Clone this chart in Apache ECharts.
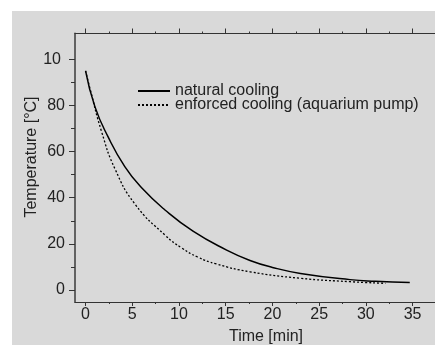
<!DOCTYPE html>
<html>
<head>
<meta charset="utf-8">
<script src="https://cdn.jsdelivr.net/npm/echarts@6/dist/echarts.min.js"></script>
<style>
  html, body { margin: 0; padding: 0; background: #ffffff; }
  #wrap { position: relative; width: 435px; height: 345px; background: #ffffff; overflow: hidden; }
  #chart { position: absolute; left: 12px; top: 11px; width: 423px; height: 334px; }
</style>
</head>
<body>
<div id="wrap"><div id="chart"></div></div>
<script>
// ---- data ----
const naturalTime  = [0, 1, 2.4, 4.2, 6, 8.5, 11.5, 15.1, 17.6, 20, 23, 28.3, 31, 34.7];
const naturalTemp  = [95, 79.5, 66.5, 53.5, 44.3, 34.7, 25.5, 17.3, 12.8, 9.8, 7.2, 4.5, 3.8, 3.3];
const enforcedTime = [0, 0.47, 1.72, 3.15, 5.3, 8.5, 10.3, 12, 14, 17.6, 22.95, 28.3, 32.1];
const enforcedTemp = [95, 87.4, 68.6, 52.5, 37.2, 23.8, 18.2, 14.3, 11.3, 7.9, 5.1, 3.6, 2.9];

const xMajorTicks = [0, 5, 10, 15, 20, 25, 30, 35];
const xMinorTicks = [2.5, 7.5, 12.5, 17.5, 22.5, 27.5, 32.5];
const yMajorTicks = [0, 20, 40, 60, 80, 100];
const yMinorTicks = [10, 30, 50, 70, 90];

const seriesNames = ['natural cooling', 'enforced cooling (aquarium pump)'];
const xName = 'Time [min]';
const yName = 'Temperature [°C]';

const FONT = 'Liberation Sans';
const FS = 16;
const AXIS = '#333333';
const TXT = '#222222';

const xMin = -1.13, xMax = 37.4;
const yMin = -5.2, yMax = 111.2;

function pairs(xs, ys) { return xs.map((x, i) => [x, ys[i]]); }

const chart = echarts.init(document.getElementById('chart'), null, { renderer: 'canvas' });

const baseX = (extra) => Object.assign({
  type: 'value', min: xMin, max: xMax, gridIndex: 0,
  splitLine: { show: false },
  axisLabel: { show: false },
  axisLine: { show: false, onZero: false },
  axisTick: { show: false }
}, extra);
const baseY = (extra) => Object.assign({
  type: 'value', min: yMin, max: yMax, gridIndex: 0,
  splitLine: { show: false },
  axisLabel: { show: false },
  axisLine: { show: false, onZero: false },
  axisTick: { show: false }
}, extra);

chart.setOption({
  backgroundColor: '#d9d9d9',
  animation: false,
  grid: { left: 63, top: 22.5, right: 0, bottom: 43, containLabel: false },
  legend: {
    orient: 'vertical', left: 125, top: 72, padding: 0,
    itemWidth: 32, itemHeight: 10, itemGap: -2,
    itemStyle: { opacity: 0 },
    textStyle: { fontFamily: FONT, fontSize: FS, color: TXT, lineHeight: 12 },
    data: seriesNames
  },
  graphic: [
    {
      type: 'text', x: 254, y: 326, silent: true,
      style: { text: xName, fontFamily: FONT, fontSize: FS, fill: TXT, align: 'center', verticalAlign: 'middle' }
    },
    {
      type: 'text', x: 20, y: 146, rotation: Math.PI / 2, silent: true,
      style: { text: yName, fontFamily: FONT, fontSize: FS, fill: TXT, align: 'center', verticalAlign: 'middle' }
    }
  ],
  xAxis: [
    baseX({
      position: 'bottom',
      axisLine: { show: true, onZero: false, lineStyle: { color: AXIS, width: 1.2 } },
      axisTick: { show: true, length: 4, customValues: xMajorTicks, lineStyle: { color: AXIS } },
      axisLabel: { show: true, customValues: xMajorTicks, margin: 5, fontFamily: FONT, fontSize: FS, color: TXT }
    }),
    baseX({
      position: 'bottom',
      axisTick: { show: true, length: 2, customValues: xMinorTicks, lineStyle: { color: AXIS } }
    }),
    baseX({
      position: 'top',
      axisLine: { show: true, onZero: false, lineStyle: { color: AXIS, width: 1.2 } },
      axisTick: { show: true, length: 5, customValues: xMajorTicks, lineStyle: { color: AXIS } }
    }),
    baseX({
      position: 'top',
      axisTick: { show: true, length: 2, customValues: xMinorTicks, lineStyle: { color: AXIS } }
    })
  ],
  yAxis: [
    baseY({
      position: 'left',
      axisLine: { show: true, onZero: false, lineStyle: { color: '#555555', width: 1.8 } },
      axisTick: { show: true, length: 6, customValues: yMajorTicks, lineStyle: { color: AXIS } },
      axisLabel: {
        show: true, customValues: yMajorTicks, margin: 10,
        fontFamily: FONT, fontSize: FS, color: TXT,
        formatter: (v) => v === 100 ? '{t|10}' : String(v),
        rich: { t: { fontFamily: FONT, fontSize: FS, color: TXT, padding: [0, 4, 0, 0] } }
      }
    }),
    baseY({
      position: 'left',
      axisTick: { show: true, length: 4, customValues: yMinorTicks, lineStyle: { color: AXIS } }
    })
  ],
  series: [
    {
      name: seriesNames[0], type: 'line', xAxisIndex: 0, yAxisIndex: 0,
      data: pairs(naturalTime, naturalTemp),
      smooth: 0.5, symbol: 'none', showSymbol: false,
      lineStyle: { color: '#000000', width: 1.5, type: 'solid' },
      itemStyle: { color: '#000000' }
    },
    {
      name: seriesNames[1], type: 'line', xAxisIndex: 0, yAxisIndex: 0,
      data: pairs(enforcedTime, enforcedTemp),
      smooth: 0.5, symbol: 'none', showSymbol: false,
      lineStyle: { color: '#000000', width: 1.3, type: [2, 2] },
      itemStyle: { color: '#000000' }
    }
  ]
});
</script>
</body>
</html>
